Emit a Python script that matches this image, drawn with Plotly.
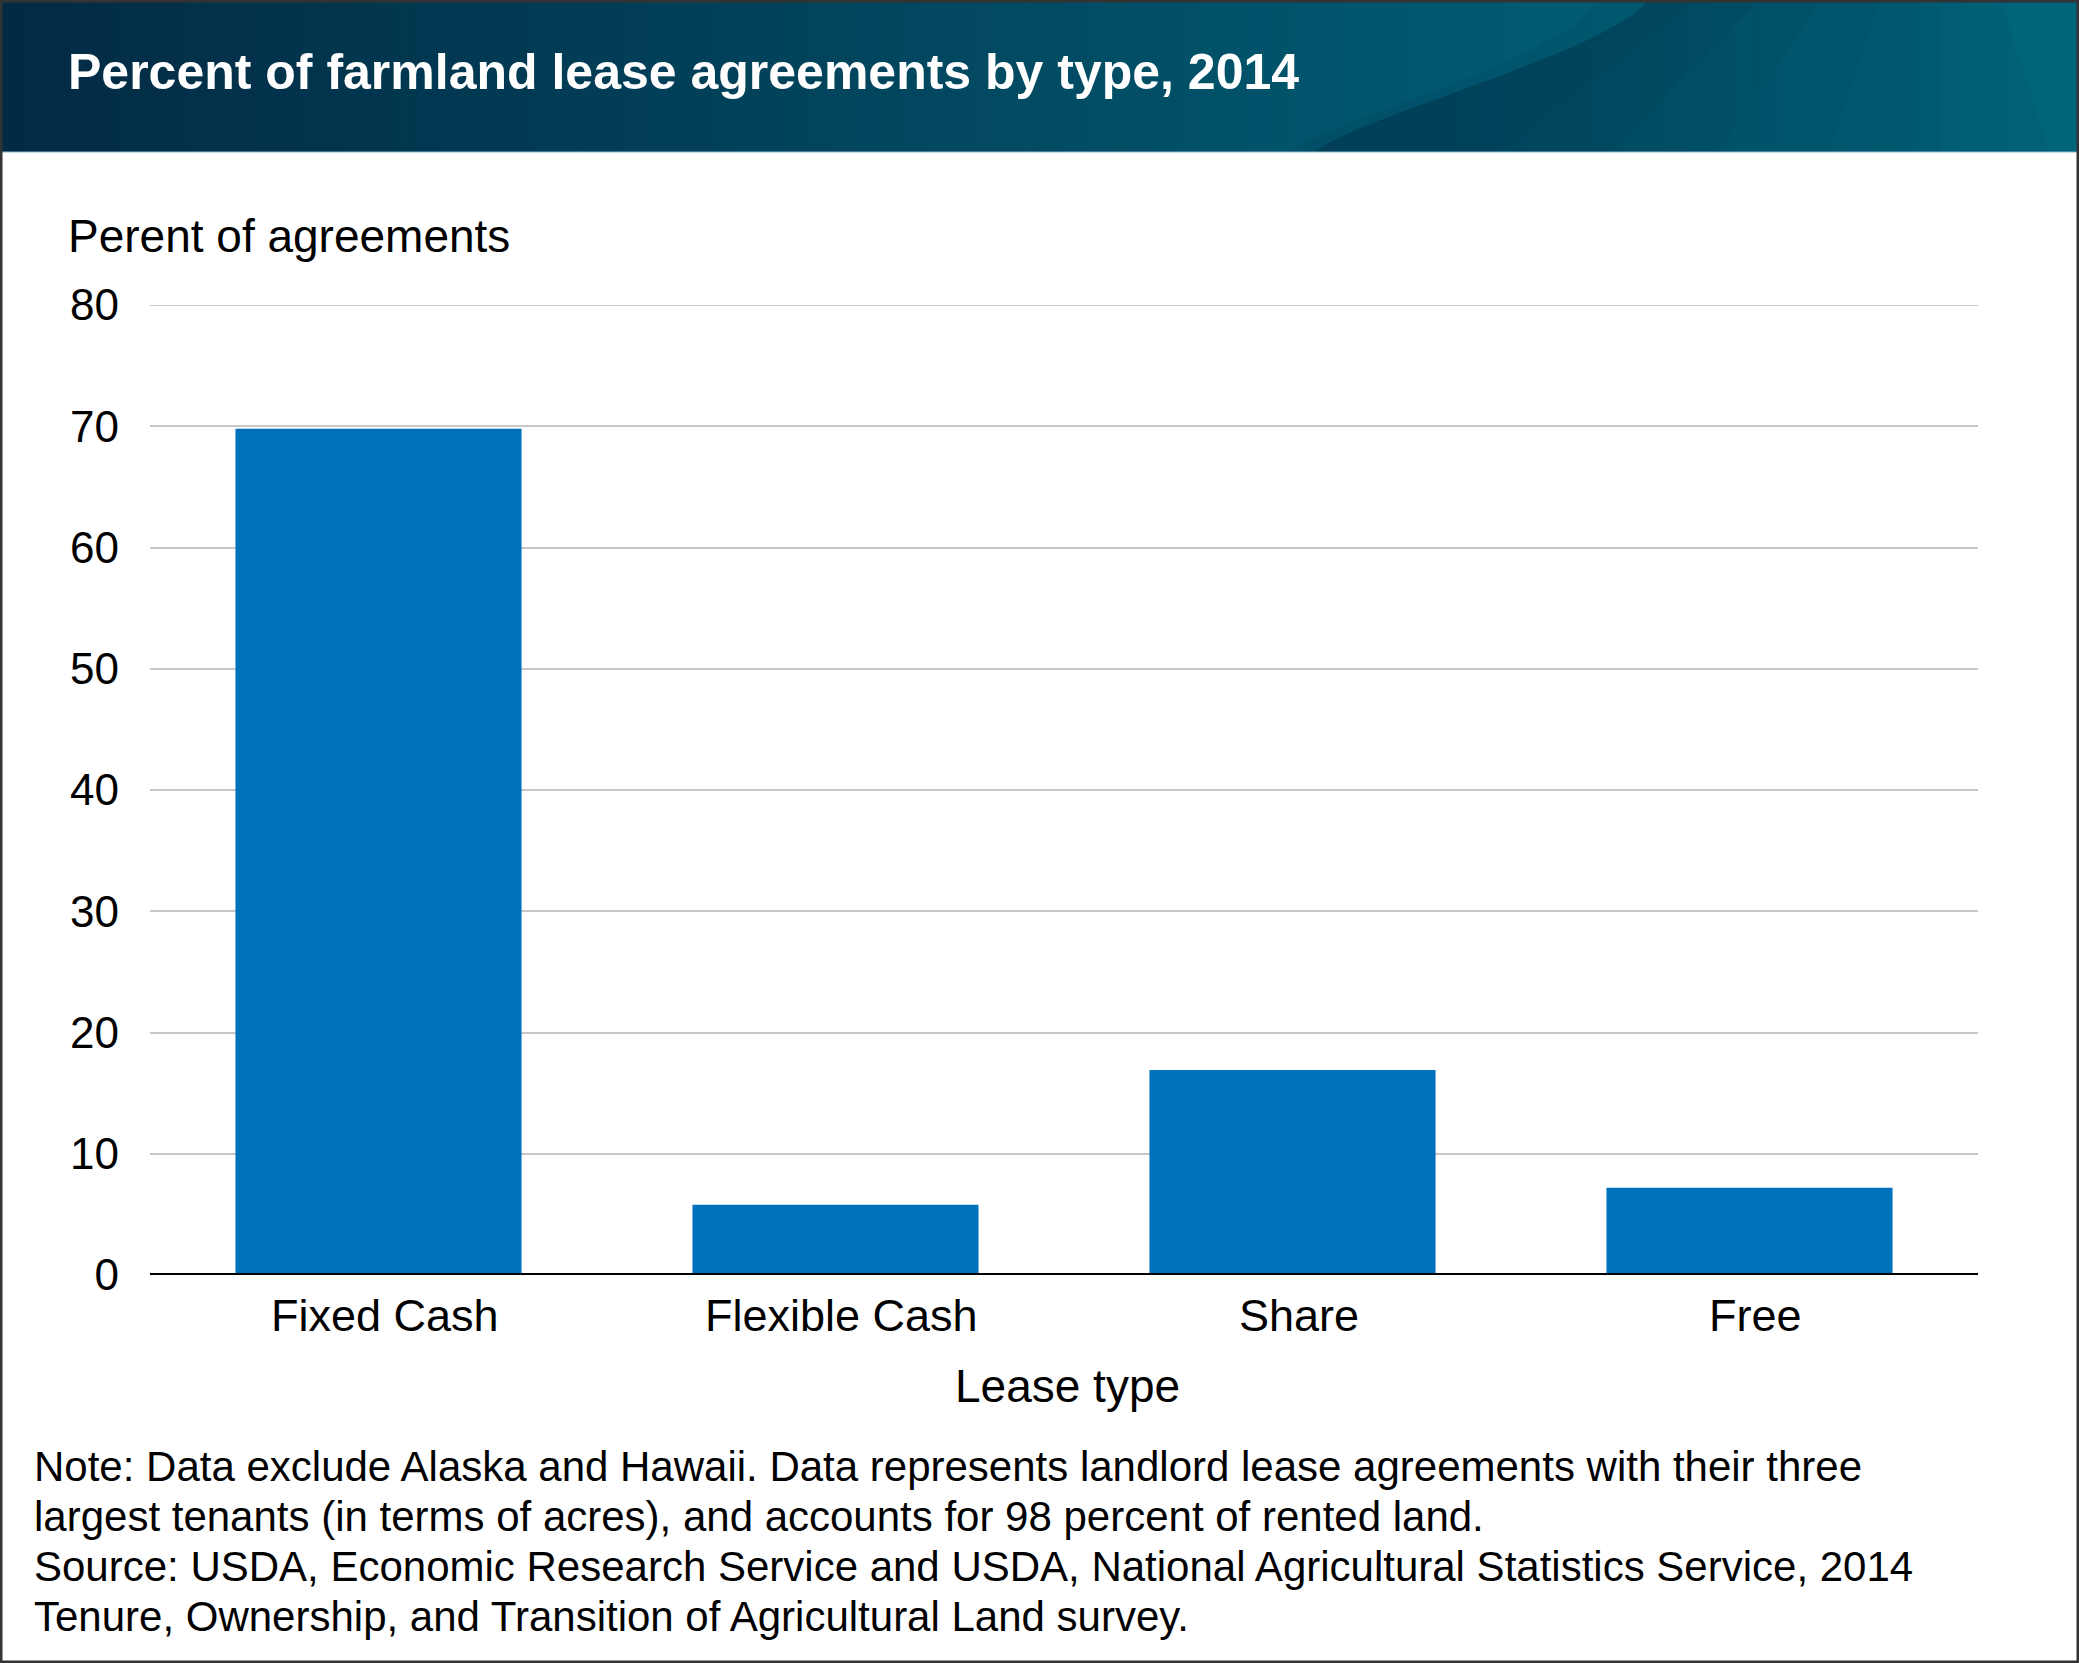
import plotly.graph_objects as go

# ---- data ----
categories = ["Fixed Cash", "Flexible Cash", "Share", "Free"]
percent_of_agreements = [69.8, 5.8, 16.9, 7.2]
y_ticks = [0, 10, 20, 30, 40, 50, 60, 70, 80]

title_text = "Percent of farmland lease agreements by type, 2014"
y_title = "Perent of agreements"
x_title = "Lease type"
note_lines = [
    "Note: Data exclude Alaska and Hawaii. Data represents landlord lease agreements with their three",
    "largest tenants (in terms of acres), and accounts for 98 percent of rented land.",
    "Source: USDA, Economic Research Service and USDA, National Agricultural Statistics Service, 2014",
    "Tenure, Ownership, and Transition of Agricultural Land survey.",
]

# ---- geometry (pixels) ----
W, H = 2079, 1663
L, R, T, B = 150, 1978, 305, 1275
PW, PH = R - L, B - T


def px(x):
    return (x - L) / PW


def py(y):
    return (B - y) / PH


FONT = "Liberation Sans, Arial, Helvetica, sans-serif"
BAR = "#0071BC"

fig = go.Figure()
fig.add_trace(go.Bar(
    x=categories, y=percent_of_agreements,
    marker=dict(color=BAR, line=dict(width=0)),
    hoverinfo="x+y",
))

shapes = []
# header gradient
HEAD_H = 152
c0 = (3, 42, 68)
c1 = (0, 108, 130)
n = 90
for i in range(n):
    t = i / (n - 1)
    c = tuple(round(c0[k] + (c1[k] - c0[k]) * t) for k in range(3))
    x0 = W * i / n
    x1 = W * (i + 1) / n + 1
    shapes.append(dict(type="rect", xref="paper", yref="paper",
                       x0=px(x0), x1=px(x1), y0=py(HEAD_H), y1=py(0),
                       fillcolor="rgb(%d,%d,%d)" % c, line=dict(width=0), layer="below"))


def P(x, y):
    return "%.5f,%.5f" % (px(x), py(y))


# wave shapes
path_a = ("M " + P(1290, 152) + " C " + P(1335, 118) + " " + P(1560, 62) + " " + P(1598, 0)
          + " L " + P(W, 0) + " L " + P(W, 152) + " Z")
shapes.append(dict(type="path", xref="paper", yref="paper", path=path_a,
                   fillcolor="rgba(0,20,40,0.07)", line=dict(width=0), layer="below"))
for k in range(6):
    path_b = ("M " + P(1315, 152) + " C " + P(1362, 115) + " " + P(1610, 52) + " " + P(1648, 0)
              + " L " + P(1700 + k * 60, 0) + " L " + P(1500 + k * 110, 152) + " Z")
    shapes.append(dict(type="path", xref="paper", yref="paper", path=path_b,
                       fillcolor="rgba(0,20,40,0.045)", line=dict(width=0), layer="below"))

# thin light line under header
shapes.append(dict(type="line", xref="paper", yref="paper",
                   x0=px(0), x1=px(W), y0=py(152), y1=py(152),
                   line=dict(color="#8fb6c8", width=1), layer="below"))

# outer frame
shapes.append(dict(type="rect", xref="paper", yref="paper",
                   x0=px(1), x1=px(W - 1), y0=py(H - 1), y1=py(1),
                   line=dict(color="#333333", width=3), fillcolor="rgba(0,0,0,0)", layer="above"))

# top gridline (at the axis range edge)
shapes.append(dict(type="line", xref="paper", yref="y",
                   x0=0, x1=1, y0=y_ticks[-1], y1=y_ticks[-1],
                   line=dict(color="#c8c8c8", width=2), layer="below"))

# baseline
shapes.append(dict(type="line", xref="paper", yref="y",
                   x0=0, x1=1, y0=0, y1=0,
                   line=dict(color="#000000", width=4), layer="above"))

annotations = [
    dict(text="<b>" + title_text + "</b>", xref="paper", yref="paper",
         x=px(66), y=py(72), xanchor="left", yanchor="middle", showarrow=False,
         font=dict(family=FONT, size=50, color="#ffffff")),
    dict(text=y_title, xref="paper", yref="paper",
         x=px(66), y=py(236), xanchor="left", yanchor="middle", showarrow=False,
         font=dict(family=FONT, size=46, color="#000000")),
    dict(text=x_title, xref="paper", yref="paper",
         x=px(1067), y=py(1386), xanchor="center", yanchor="middle", showarrow=False,
         font=dict(family=FONT, size=46, color="#000000")),
]
# category labels (slightly right of bar centres, as in the original)
for cat in categories:
    annotations.append(dict(text=cat, xref="x", yref="paper", x=cat, y=py(1315),
                            xanchor="center", yanchor="middle", showarrow=False, xshift=6,
                            font=dict(family=FONT, size=45, color="#000000")))
note_y = [1466, 1516, 1566, 1616]
for line, yy in zip(note_lines, note_y):
    annotations.append(dict(text=line, xref="paper", yref="paper",
                            x=px(32), y=py(yy), xanchor="left", yanchor="middle", showarrow=False,
                            font=dict(family=FONT, size=42, color="#000000")))

fig.update_layout(
    width=W, height=H,
    margin=dict(l=L, r=W - R, t=T, b=H - B, pad=0),
    paper_bgcolor="#ffffff", plot_bgcolor="#ffffff",
    showlegend=False,
    bargap=0.374,
    font=dict(family=FONT, color="#000000"),
    shapes=shapes,
    annotations=annotations,
    xaxis=dict(showgrid=False, zeroline=False, showline=False, ticks="",
               showticklabels=False, fixedrange=True),
    yaxis=dict(range=[0, 80], tickvals=y_ticks, showgrid=True, gridcolor="#c8c8c8", gridwidth=2,
               zeroline=False, showline=False, ticks="",
               tickfont=dict(family=FONT, size=44, color="#000000"),
               ticklabelstandoff=30, fixedrange=True),
)

fig.write_html(
    "out.html",
    config={"displayModeBar": False},
    post_script="document.body.style.margin='0';document.body.style.overflow='hidden';",
)
